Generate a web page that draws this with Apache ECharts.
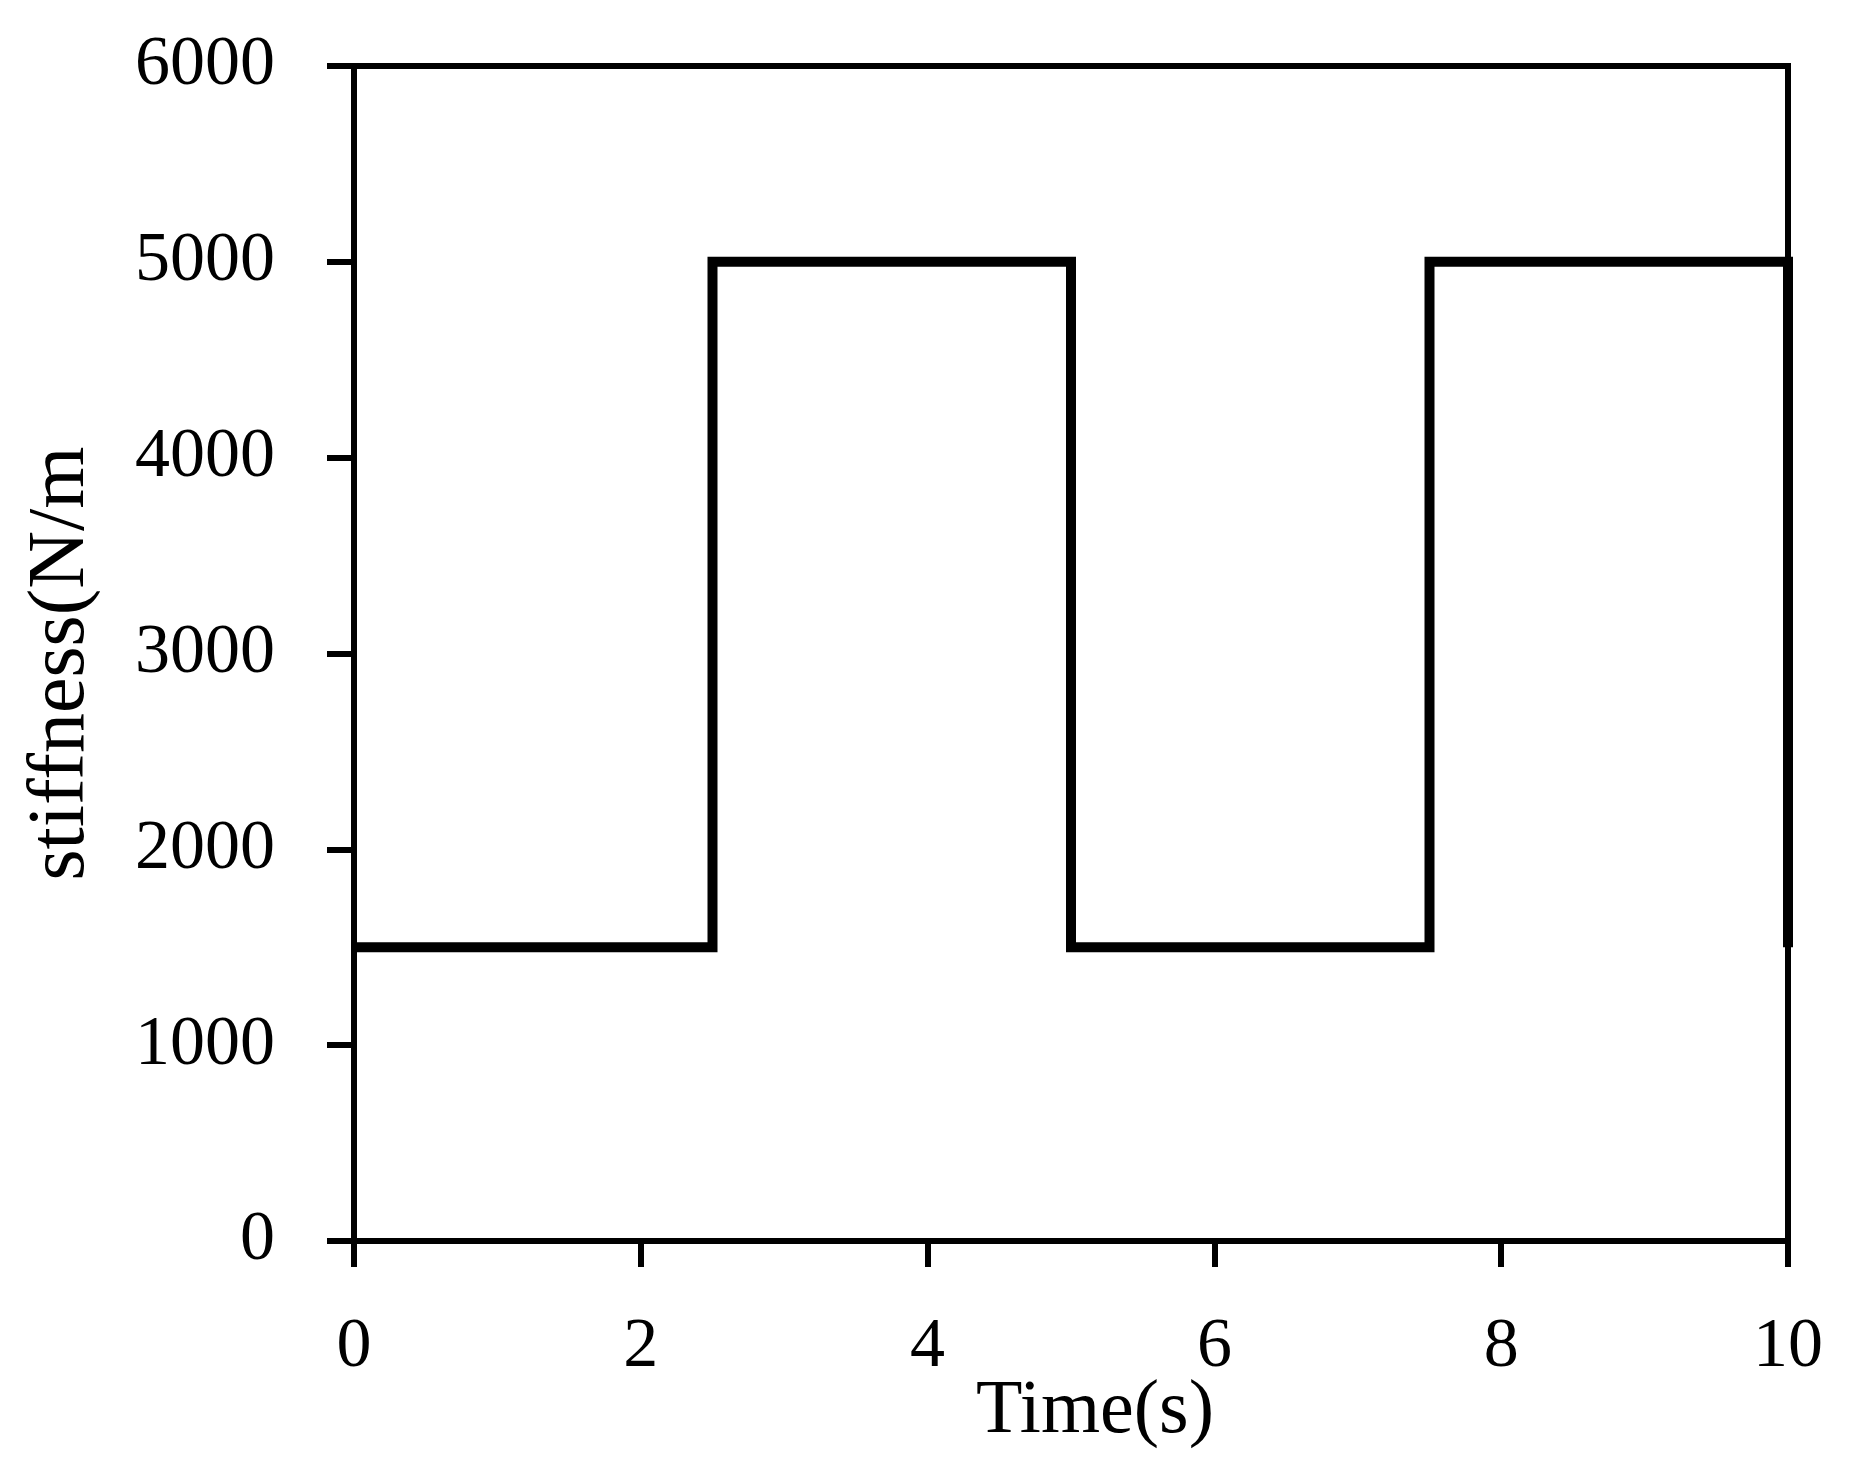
<!DOCTYPE html>
<html>
<head>
<meta charset="utf-8">
<script src="https://cdn.jsdelivr.net/npm/echarts@6/dist/echarts.min.js"></script>
<style>
html,body{margin:0;padding:0;background:#fff;}
#chart{width:1862px;height:1470px;}
</style>
</head>
<body>
<div id="chart"></div>
<script>
var timePoints = [0, 2.5, 2.5, 5, 5, 7.5, 7.5, 10, 10];
var stiffnessPoints = [1500, 1500, 5000, 5000, 1500, 1500, 5000, 5000, 1500];
var xTicks = [0, 2, 4, 6, 8, 10];
var yTicks = [0, 1000, 2000, 3000, 4000, 5000, 6000];
var xName = 'Time(s)';
var yName = 'stiffness(N/m';

var FONT = '"Liberation Serif", "Times New Roman", serif';
var data = timePoints.map(function (t, i) { return [t, stiffnessPoints[i]]; });

var chart = echarts.init(document.getElementById('chart'), null, {renderer: 'canvas'});
chart.setOption({
  backgroundColor: '#fff',
  animation: false,
  grid: {
    left: 354, right: 74, top: 66, bottom: 229,
    show: true, borderColor: '#000', borderWidth: 6, backgroundColor: 'transparent'
  },
  xAxis: {
    type: 'value',
    min: xTicks[0], max: xTicks[xTicks.length - 1], interval: 2,
    name: xName, nameLocation: 'middle', nameGap: 133, nameMoveOverlap: false,
    nameTextStyle: {fontFamily: FONT, fontSize: 76, color: '#000', padding: [0, 0, 0, 48]},
    axisLine: {show: true, lineStyle: {color: '#000', width: 6}},
    axisTick: {show: true, inside: false, length: 26, lineStyle: {color: '#000', width: 6}},
    axisLabel: {margin: 72, fontFamily: FONT, fontSize: 70, color: '#000',
      formatter: function (v) { return String(v); }},
    splitLine: {show: false}
  },
  yAxis: {
    type: 'value',
    min: yTicks[0], max: yTicks[yTicks.length - 1], interval: 1000,
    name: yName, nameLocation: 'middle', nameGap: 252, nameMoveOverlap: false,
    nameTextStyle: {fontFamily: FONT, fontSize: 80, color: '#000', padding: [0, 20, 0, 0]},
    axisLine: {show: true, lineStyle: {color: '#000', width: 6}},
    axisTick: {show: true, inside: false, length: 27, lineStyle: {color: '#000', width: 6}},
    axisLabel: {margin: 79, fontFamily: FONT, fontSize: 70, color: '#000',
      formatter: function (v) { return String(v); }},
    splitLine: {show: false}
  },
  series: [{
    type: 'line',
    data: data,
    showSymbol: false,
    symbol: 'none',
    clip: false,
    lineStyle: {color: '#000', width: 10, join: 'miter', cap: 'butt'}
  }]
});
</script>
</body>
</html>
